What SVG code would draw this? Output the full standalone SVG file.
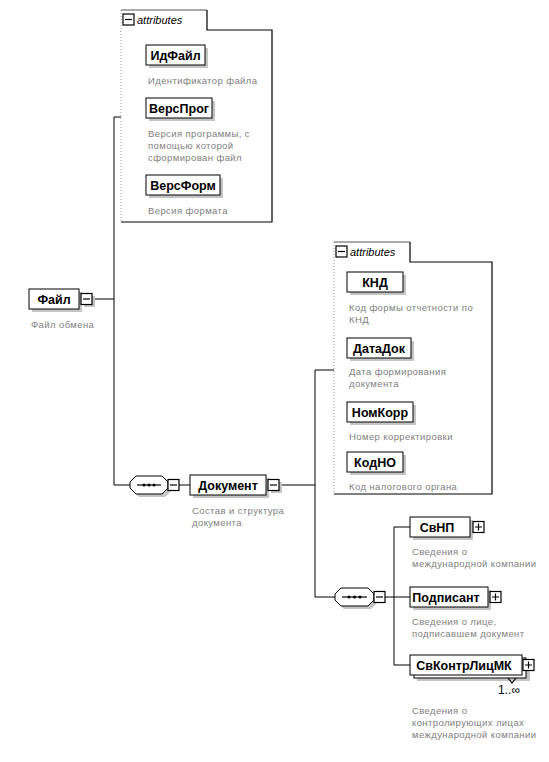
<svg xmlns="http://www.w3.org/2000/svg" width="549" height="762" viewBox="0 0 549 762">
<style>
.n{fill:#fff;stroke:#000;stroke-width:1}
.s{fill:#c4c4c4}
.t{font-family:"Liberation Sans",Arial,sans-serif;font-weight:bold;font-size:12.5px;fill:#000;text-anchor:middle}
.d{font-family:"Liberation Sans",Arial,sans-serif;font-size:9.5px;fill:#808080;letter-spacing:0.4px}
.a{font-family:"Liberation Sans",Arial,sans-serif;font-style:italic;font-size:11px;fill:#000}
.c{fill:none;stroke:#000;stroke-width:1}
.dot{fill:none;stroke:#999;stroke-width:1;stroke-dasharray:1 2}
.tab{fill:none;stroke:#555;stroke-width:1}
.box{fill:none;stroke:#000;stroke-width:1.2}
.pm{fill:#fff;stroke:#000;stroke-width:1.2}
.pl{stroke:#000;stroke-width:1.2;fill:none}
</style>
<rect width="549" height="762" fill="#fff"/>

<g id="connectors">
  <path class="c" d="M92,299 H114 M114,117 V485 M114,117 H121 M114,485 H130 M179,485 H190 M280,485 H315 M315,370 V597 M315,370 H334 M315,597 H335 M385,597 H410 M394,527 V665 M394,527 H410 M394,665 H410"/>
</g>

<g id="attrs1">
  <path class="dot" d="M121,10 V222"/>
  <path class="tab" d="M121,10 H207"/>
  <path class="box" d="M207,10 V30 H272 V222 H121"/>
  <rect class="pm" x="123" y="14" width="11" height="11"/>
  <path class="pl" d="M125,19.5 H132"/>
  <text class="a" x="137" y="24">attributes</text>
</g>

<g id="ИдФайл">
  <rect class="s" x="149" y="48" width="59" height="20"/>
  <rect class="n" x="146" y="45" width="59" height="20"/>
  <text class="t" x="175.5" y="59.5">ИдФайл</text>
  <text class="d" x="148" y="84">Идентификатор файла</text>
</g>
<g id="ВерсПрог">
  <rect class="s" x="149" y="101" width="66" height="20"/>
  <rect class="n" x="146" y="98" width="66" height="20"/>
  <text class="t" x="179" y="112.5">ВерсПрог</text>
  <text class="d" x="148" y="137">Версия программы, с</text>
  <text class="d" x="148" y="149">помощью которой</text>
  <text class="d" x="148" y="161">сформирован файл</text>
</g>
<g id="ВерсФорм">
  <rect class="s" x="149" y="178" width="74" height="20"/>
  <rect class="n" x="146" y="175" width="74" height="20"/>
  <text class="t" x="183" y="189.5">ВерсФорм</text>
  <text class="d" x="148" y="214">Версия формата</text>
</g>

<g id="Файл">
  <rect class="s" x="32" y="292" width="50" height="20"/>
  <rect class="n" x="29" y="289" width="50" height="20"/>
  <text class="t" x="54" y="303.5">Файл</text>
  <rect class="s" x="84" y="296" width="11" height="11"/>
  <rect class="pm" x="81" y="293.5" width="11" height="11"/>
  <path class="pl" d="M83,299 H90"/>
  <text class="d" x="31" y="328">Файл обмена</text>
</g>

<g id="seq1">
  <path class="s" d="M139,479 H165 L171,485 V491 L165,497 H139 L133,491 V485 Z"/>
  <path class="n" d="M136,476 H162 L168,482 V488 L162,494 H136 L130,488 V482 Z"/>
  <path class="pl" d="M137,485 H161"/>
  <circle cx="144" cy="485" r="1.5"/><circle cx="149" cy="485" r="1.5"/><circle cx="154" cy="485" r="1.5"/>
  <rect class="pm" x="168" y="479.5" width="11" height="11"/>
  <path class="pl" d="M170,485 H177"/>
</g>

<g id="Документ">
  <rect class="s" x="193" y="478" width="76" height="20"/>
  <rect class="n" x="190" y="475" width="76" height="20"/>
  <text class="t" x="228" y="489.5">Документ</text>
  <rect class="s" x="271" y="482" width="11" height="11"/>
  <rect class="pm" x="268" y="479.5" width="11" height="11"/>
  <path class="pl" d="M270,485 H277"/>
  <text class="d" x="192" y="514">Состав и структура</text>
  <text class="d" x="192" y="526">документа</text>
</g>

<g id="attrs2">
  <path class="dot" d="M334,242 V494"/>
  <path class="tab" d="M334,242 H410"/>
  <path class="box" d="M410,242 V262 H492 V494 H334"/>
  <rect class="pm" x="336" y="246" width="11" height="11"/>
  <path class="pl" d="M338,251.5 H345"/>
  <text class="a" x="350" y="256">attributes</text>
</g>

<g id="КНД">
  <rect class="s" x="350" y="275" width="56" height="20"/>
  <rect class="n" x="347" y="272" width="56" height="20"/>
  <text class="t" x="375" y="286.5">КНД</text>
  <text class="d" x="349" y="311">Код формы отчетности по</text>
  <text class="d" x="349" y="323">КНД</text>
</g>
<g id="ДатаДок">
  <rect class="s" x="350" y="341" width="64" height="20"/>
  <rect class="n" x="347" y="338" width="64" height="20"/>
  <text class="t" x="379" y="352.5">ДатаДок</text>
  <text class="d" x="349" y="375">Дата формирования</text>
  <text class="d" x="349" y="387">документа</text>
</g>
<g id="НомКорр">
  <rect class="s" x="350" y="405" width="66" height="20"/>
  <rect class="n" x="347" y="402" width="66" height="20"/>
  <text class="t" x="380" y="416.5">НомКорр</text>
  <text class="d" x="349" y="440">Номер корректировки</text>
</g>
<g id="КодНО">
  <rect class="s" x="350" y="455" width="56" height="20"/>
  <rect class="n" x="347" y="452" width="56" height="20"/>
  <text class="t" x="375" y="466.5">КодНО</text>
  <text class="d" x="349" y="490">Код налогового органа</text>
</g>

<g id="seq2">
  <path class="s" d="M344,591 H371 L377,597 V603 L371,609 H344 L338,603 V597 Z"/>
  <path class="n" d="M341,588 H368 L374,594 V600 L368,606 H341 L335,600 V594 Z"/>
  <path class="pl" d="M342,597 H367"/>
  <circle cx="349" cy="597" r="1.5"/><circle cx="354.5" cy="597" r="1.5"/><circle cx="360" cy="597" r="1.5"/>
  <rect class="pm" x="374" y="591.5" width="11" height="11"/>
  <path class="pl" d="M376,597 H383"/>
</g>

<g id="СвНП">
  <rect class="s" x="413" y="520" width="60" height="20"/>
  <rect class="n" x="410" y="517" width="60" height="20"/>
  <text class="t" x="437" y="531.5">СвНП</text>
  <rect class="pm" x="473" y="521.5" width="11" height="11"/>
  <path class="pl" d="M475,527 H482 M478.5,523.5 V530.5"/>
  <text class="d" x="412" y="555">Сведения о</text>
  <text class="d" x="412" y="567">международной компании</text>
</g>
<g id="Подписант">
  <rect class="s" x="413" y="590" width="78" height="20"/>
  <rect class="n" x="410" y="587" width="78" height="20"/>
  <text class="t" x="446" y="601.5">Подписант</text>
  <rect class="pm" x="490" y="591.5" width="11" height="11"/>
  <path class="pl" d="M492,597 H499 M495.5,593.5 V600.5"/>
  <text class="d" x="412" y="625">Сведения о лице,</text>
  <text class="d" x="412" y="637">подписавшем документ</text>
</g>
<g id="СвКонтрЛицМК">
  <rect class="s" x="417" y="661" width="113" height="20"/>
  <rect class="n" x="414" y="658" width="112" height="20"/>
  <rect class="n" x="410" y="655" width="112" height="20"/>
  <text class="t" x="464" y="669.5">СвКонтрЛицМК</text>
  <rect class="pm" x="523" y="659.5" width="11" height="11"/>
  <path class="pl" d="M525,665 H532 M528.5,661.5 V668.5"/>
  <path class="pl" d="M508,678 L512,683 L516,678"/>
  <text class="t" x="509" y="694" style="font-weight:normal;font-size:12px">1..∞</text>
  <text class="d" x="412" y="714">Сведения о</text>
  <text class="d" x="412" y="726">контролирующих лицах</text>
  <text class="d" x="412" y="738">международной компании</text>
</g>
</svg>
